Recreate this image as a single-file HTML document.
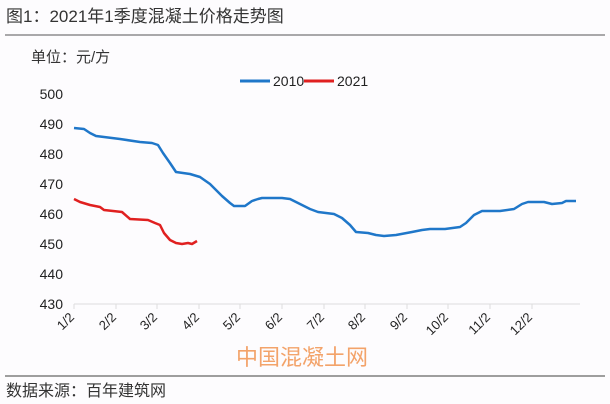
<!DOCTYPE html>
<html><head><meta charset="utf-8"><style>
body{margin:0;background:#fdfcfe;}
svg{display:block;font-family:"Liberation Sans","Noto Sans CJK SC",sans-serif;}
</style></head><body>
<svg width="610" height="404" viewBox="0 0 610 404">
<rect width="610" height="404" fill="#fdfcfe"/>
<text x="6" y="22" font-size="17" fill="#333">图1：2021年1季度混凝土价格走势图</text>
<line x1="5" y1="35" x2="605" y2="35" stroke="#555" stroke-width="1"/>
<text x="31" y="62" font-size="15" fill="#333">单位：元/方</text>
<g font-size="14" fill="#222" text-anchor="end">
<text x="63" y="99">500</text><text x="63" y="129">490</text><text x="63" y="159">480</text>
<text x="63" y="189">470</text><text x="63" y="219">460</text><text x="63" y="249">450</text>
<text x="63" y="279">440</text><text x="63" y="309">430</text>
</g>
<line x1="74" y1="304" x2="580" y2="304" stroke="#ddd"/>
<g stroke="#ddd">
<line x1="74" y1="304" x2="74" y2="309"/><line x1="116" y1="304" x2="116" y2="309"/><line x1="157" y1="304" x2="157" y2="309"/><line x1="199" y1="304" x2="199" y2="309"/><line x1="240" y1="304" x2="240" y2="309"/><line x1="282" y1="304" x2="282" y2="309"/><line x1="324" y1="304" x2="324" y2="309"/><line x1="365" y1="304" x2="365" y2="309"/><line x1="407" y1="304" x2="407" y2="309"/><line x1="448" y1="304" x2="448" y2="309"/><line x1="490" y1="304" x2="490" y2="309"/><line x1="532" y1="304" x2="532" y2="309"/>
</g>
<g font-size="13" fill="#222" text-anchor="end">
<text transform="translate(75,318) rotate(-45)">1/2</text>
<text transform="translate(117,318) rotate(-45)">2/2</text>
<text transform="translate(158,318) rotate(-45)">3/2</text>
<text transform="translate(200,318) rotate(-45)">4/2</text>
<text transform="translate(241,318) rotate(-45)">5/2</text>
<text transform="translate(283,318) rotate(-45)">6/2</text>
<text transform="translate(325,318) rotate(-45)">7/2</text>
<text transform="translate(366,318) rotate(-45)">8/2</text>
<text transform="translate(408,318) rotate(-45)">9/2</text>
<text transform="translate(449,318) rotate(-45)">10/2</text>
<text transform="translate(491,318) rotate(-45)">11/2</text>
<text transform="translate(533,318) rotate(-45)">12/2</text>
</g>
<line x1="240" y1="81" x2="270" y2="81" stroke="#1f77c9" stroke-width="3"/>
<text x="273" y="86" font-size="14" fill="#222">2010</text>
<line x1="304" y1="81" x2="334" y2="81" stroke="#e02020" stroke-width="3"/>
<text x="337" y="86" font-size="14" fill="#222">2021</text>
<polyline fill="none" stroke="#1f77c9" stroke-width="2.5" stroke-linejoin="round" points="74,128 84,129 90,133 96,136 120,139 140,142 152,143 158,145 163,153 170,163 176,172 190,174 200,177 210,184 222,196 230,203 234,206 245,206 252,201 258,199 262,198 282,198 290,199 298,203 310,209 318,212 334,214 342,218 350,225 356,232 368,233 376,235 384,236 396,235 412,232 422,230 430,229 445,229 460,227 466,223 474,215 482,211 500,211 514,209 522,204 528,202 544,202 552,204 562,203 566,201 576,201"/>
<polyline fill="none" stroke="#e02020" stroke-width="2.5" stroke-linejoin="round" points="74,199 80,202 90,205 100,207 104,210 122,212 130,219 148,220 155,223 160,225 164,233 170,240 176,243 182,244 188,243 192,244 197,241"/>
<text x="236" y="365" font-size="22" fill="#f3a36a">中国混凝土网</text>
<line x1="5" y1="376" x2="605" y2="376" stroke="#666" stroke-width="1.2"/>
<text x="6" y="396" font-size="16" fill="#333">数据来源：百年建筑网</text>
</svg>
</body></html>
